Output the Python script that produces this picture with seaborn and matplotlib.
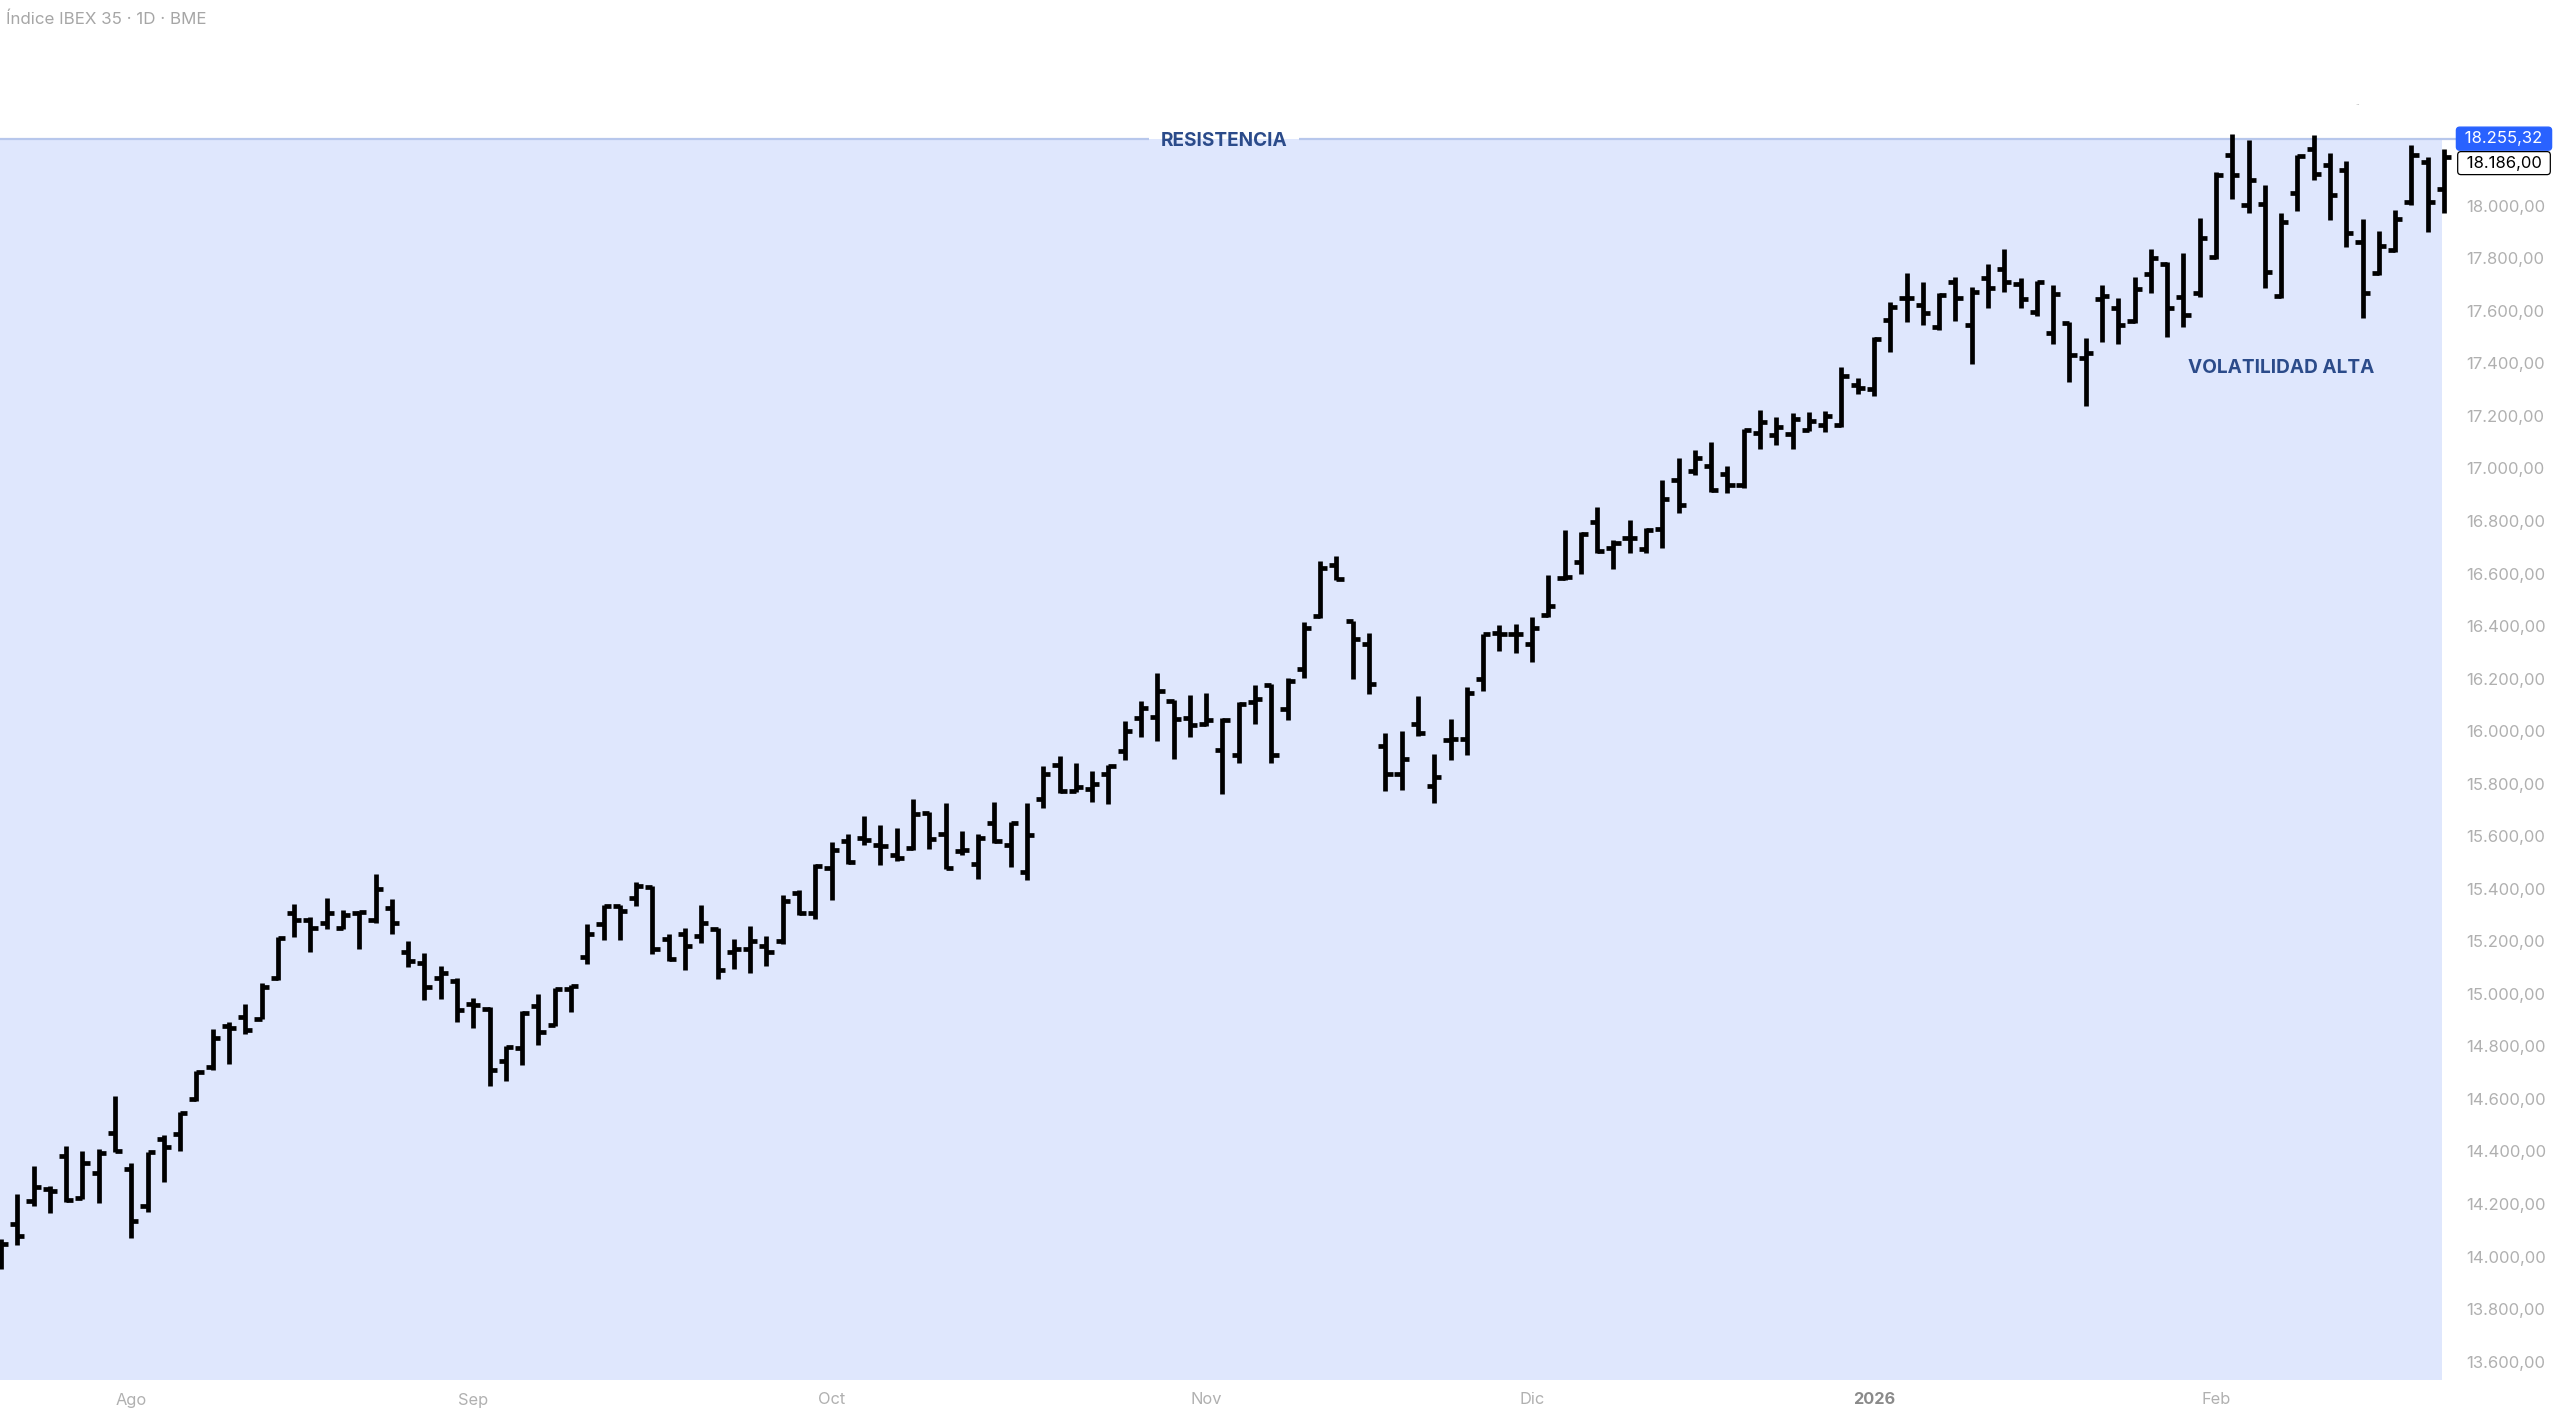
import matplotlib
matplotlib.use("Agg")
import matplotlib.pyplot as plt
import matplotlib.transforms as mtransforms
from matplotlib.ticker import FuncFormatter
import seaborn as sns
import pandas as pd

# daily OHLC values (IBEX 35, 22 Jul 2025 - 20 Feb 2026)
opens = [13992, 14125, 14210, 14258, 14381, 14222, 14318, 14469, 14334, 14192,
         14448, 14467, 14600, 14720, 14876, 14910, 14906, 15062, 15309, 15281,
         15269, 15252, 15307, 15280, 15328, 15160, 15117, 15062, 15050, 14961,
         14942, 14743, 14792, 14954, 14881, 15018, 15142, 15265, 15335, 15366,
         15408, 15210, 15227, 15220, 15246, 15160, 15170, 15183, 15202, 15385,
         15309, 15480, 15582, 15594, 15565, 15528, 15554, 15689, 15609, 15544,
         15493, 15651, 15565, 15462, 15741, 15871, 15772, 15779, 15836, 15924,
         16049, 16054, 16115, 16051, 16026, 15928, 15909, 16111, 16174, 16083,
         16237, 16438, 16634, 16419, 16330, 15943, 15838, 16026, 15791, 15966,
         15969, 16199, 16374, 16370, 16333, 16442, 16584, 16644, 16795, 16698,
         16736, 16695, 16771, 16957, 16992, 17008, 16979, 16936, 17135, 17126,
         17131, 17147, 17166, 17164, 17318, 17302, 17566, 17648, 17623, 17540,
         17709, 17547, 17724, 17759, 17701, 17597, 17515, 17553, 17420, 17645,
         17610, 17562, 17740, 17777, 17654, 17667, 17803, 18195, 18003, 18005,
         17658, 18050, 18216, 18155, 18136, 17863, 17743, 17832, 18013, 18165,
         18064]
highs = [14068, 14239, 14346, 14270, 14420, 14403, 14410, 14610, 14357, 14397,
         14463, 14549, 14705, 14866, 14891, 14961, 15043, 15218, 15343, 15294,
         15366, 15319, 15316, 15455, 15362, 15202, 15157, 15107, 15062, 14986,
         14948, 14802, 14933, 14999, 15024, 15033, 15267, 15338, 15337, 15427,
         15411, 15229, 15250, 15337, 15252, 15208, 15259, 15220, 15375, 15395,
         15495, 15578, 15609, 15677, 15642, 15630, 15740, 15693, 15727, 15620,
         15607, 15730, 15655, 15728, 15867, 15905, 15878, 15848, 15871, 16039,
         16115, 16222, 16118, 16137, 16144, 16049, 16112, 16175, 16178, 16203,
         16416, 16647, 16668, 16421, 16372, 15994, 16000, 16134, 15914, 16045,
         16168, 16370, 16403, 16406, 16434, 16596, 16765, 16759, 16852, 16729,
         16805, 16774, 16955, 17040, 17071, 17101, 17008, 17150, 17223, 17194,
         17211, 17215, 17220, 17388, 17344, 17502, 17635, 17743, 17711, 17667,
         17728, 17692, 17777, 17835, 17724, 17715, 17699, 17559, 17498, 17699,
         17648, 17727, 17834, 17787, 17822, 17952, 18129, 18275, 18250, 18079,
         17971, 18195, 18269, 18199, 18170, 17950, 17904, 17984, 18231, 18184,
         18216]
lows = [13954, 14045, 14194, 14166, 14207, 14220, 14204, 14397, 14071, 14171,
        14283, 14403, 14591, 14711, 14733, 14847, 14904, 15053, 15218, 15161,
        15246, 15246, 15172, 15271, 15227, 15104, 14976, 14980, 14894, 14870,
        14650, 14667, 14729, 14807, 14878, 14929, 15113, 15205, 15205, 15335,
        15151, 15125, 15090, 15195, 15056, 15094, 15081, 15106, 15189, 15300,
        15284, 15356, 15493, 15565, 15490, 15506, 15547, 15552, 15474, 15527,
        15436, 15573, 15483, 15433, 15707, 15766, 15770, 15732, 15724, 15889,
        15979, 15962, 15893, 15978, 16019, 15762, 15880, 16026, 15880, 16042,
        16203, 16431, 16574, 16199, 16140, 15772, 15775, 15981, 15728, 15890,
        15909, 16153, 16305, 16298, 16264, 16434, 16577, 16599, 16679, 16618,
        16679, 16679, 16698, 16831, 16976, 16911, 16907, 16926, 17075, 17088,
        17075, 17144, 17137, 17158, 17283, 17274, 17443, 17557, 17547, 17528,
        17562, 17397, 17610, 17673, 17610, 17582, 17473, 17329, 17236, 17483,
        17473, 17553, 17667, 17502, 17538, 17654, 17796, 18026, 17971, 17686,
        17648, 17980, 18098, 17946, 17844, 17574, 17737, 17825, 18003, 17899,
        17971]
closes = [14049, 14080, 14264, 14248, 14217, 14357, 14394, 14402, 14137, 14397,
          14416, 14547, 14701, 14832, 14870, 14862, 15027, 15212, 15281, 15252,
          15309, 15299, 15312, 15400, 15271, 15126, 15027, 15081, 14938, 14958,
          14711, 14799, 14927, 14856, 15018, 15028, 15227, 15335, 15316, 15411,
          15170, 15132, 15182, 15269, 15090, 15170, 15202, 15160, 15354, 15309,
          15487, 15547, 15502, 15585, 15563, 15518, 15685, 15590, 15480, 15546,
          15594, 15582, 15651, 15605, 15836, 15772, 15789, 15800, 15867, 16000,
          16089, 16153, 16047, 16023, 16041, 16042, 16104, 16121, 15908, 16191,
          16391, 16621, 16580, 16349, 16178, 15838, 15893, 15992, 15827, 15969,
          16146, 16368, 16370, 16368, 16391, 16476, 16587, 16751, 16685, 16717,
          16736, 16767, 16885, 16859, 17040, 16919, 16938, 17145, 17177, 17156,
          17189, 17182, 17198, 17353, 17306, 17492, 17616, 17648, 17591, 17661,
          17648, 17673, 17688, 17709, 17645, 17711, 17663, 17430, 17439, 17658,
          17547, 17682, 17800, 17610, 17585, 17879, 18117, 18117, 18098, 17746,
          17939, 18190, 18119, 18041, 17895, 17669, 17848, 17949, 18193, 18013,
          18186]

resistance = 18255.32
last_price = 18186.00
month_names = {8: "Ago", 9: "Sep", 10: "Oct", 11: "Nov", 12: "Dic", 1: "2026", 2: "Feb"}
y_ticks = list(range(13600, 18001, 200))


def es_num(v):
    return f"{v:,.2f}".replace(",", "X").replace(".", ",").replace("X", ".")


# BME trading days
dates = pd.bdate_range("2025-07-22", "2026-02-20")
dates = dates[~dates.isin(pd.to_datetime(["2025-12-25", "2025-12-26", "2026-01-01"]))]

# one row per line segment of each OHLC bar
tick = 0.44
rows = []
for i, (o, h, l, c) in enumerate(zip(opens, highs, lows, closes)):
    rows += [(i, l, 3 * i), (i, h, 3 * i),
             (i - tick, o, 3 * i + 1), (i, o, 3 * i + 1),
             (i, c, 3 * i + 2), (i + tick, c, 3 * i + 2)]
seg = pd.DataFrame(rows, columns=["x", "price", "seg"])

sns.set_theme(style="white")
plt.rcParams["font.family"] = ["Inter", "DejaVu Sans"]

fig = plt.figure(figsize=(25.6, 14.16), dpi=100)
ax = fig.add_axes([0, 36 / 1416, 2458 / 2560, 1350 / 1416])

x0, x1 = -0.06, 150.86
y0, y1 = 13530, 18669
ax.set_xlim(x0, x1)
ax.set_ylim(y0, y1)

# shaded zone below the resistance
ax.fill_between([x0, len(opens) - 1.14], y0, resistance, color="#dfe7fd", lw=0, zorder=0)

sns.lineplot(data=seg, x="x", y="price", units="seg", estimator=None, sort=False,
             color="black", linewidth=3.4, solid_capstyle="butt", ax=ax, legend=False)

# resistance line with a gap for its label
lbl_x = 75.1
ax.hlines(resistance, x0, lbl_x - 4.6, color="#b7c7ec", lw=1.6, zorder=1)
ax.hlines(resistance, lbl_x + 4.6, x1, color="#b7c7ec", lw=1.6, zorder=1)
ax.text(lbl_x, resistance - 10, "RESISTENCIA", ha="center", va="center",
        fontsize=13.7, fontweight="bold", color="#2b4b8a")
ax.text(140.0, 17383, "VOLATILIDAD ALTA", ha="center", va="center",
        fontsize=13.7, fontweight="bold", color="#2b4b8a")

# axes styling
for s in ax.spines.values():
    s.set_visible(False)
ax.set_xlabel("")
ax.set_ylabel("")
ax.yaxis.tick_right()
ax.set_yticks(y_ticks)
ax.yaxis.set_major_formatter(FuncFormatter(lambda v, p: es_num(v)))
ax.tick_params(axis="y", length=0, pad=6, labelsize=12, labelcolor="#b0b0b0")

month_start = pd.Series(range(len(dates)), index=dates).groupby([dates.year, dates.month]).first()
pos, labs = [], []
for (yr, mo), idx in month_start.items():
    if mo in month_names and idx > 0:
        pos.append(idx)
        labs.append(month_names[mo])
ax.set_xticks(pos)
ax.set_xticklabels(labs)
ax.tick_params(axis="x", length=0, pad=9, labelsize=11.8, labelcolor="#b0b0b0")
for t in ax.get_xticklabels():
    if t.get_text() == "2026":
        t.set_fontweight("bold")
        t.set_color("#8a8a8a")

# price labels on the right scale
trans = mtransforms.blended_transform_factory(fig.transFigure, ax.transData)
ax.text(2504 / 2560, resistance, " " + es_num(resistance) + " ", transform=trans,
        ha="center", va="center", fontsize=12, color="white", clip_on=False,
        bbox=dict(boxstyle="round,pad=0.24,rounding_size=0.2", fc="#2962ff", ec="#2962ff"))
ax.annotate(" " + es_num(last_price) + " ", xy=(2504 / 2560, resistance), xycoords=trans,
            xytext=(0, -17.6), textcoords="offset points", ha="center", va="center",
            fontsize=12, color="black", annotation_clip=False,
            bbox=dict(boxstyle="round,pad=0.24,rounding_size=0.2", fc="white", ec="black", lw=0.9))

fig.text(6 / 2560, 1 - 19 / 1416, "Índice IBEX 35 · 1D · BME", ha="left", va="center",
         fontsize=12.2, color="#a6a6a6")
fig.text(2358 / 2560, 1 - 106 / 1416, "··", ha="center", va="center", fontsize=6, color="#9a9a9a")

fig.savefig("out.png", dpi=100, facecolor="white")
